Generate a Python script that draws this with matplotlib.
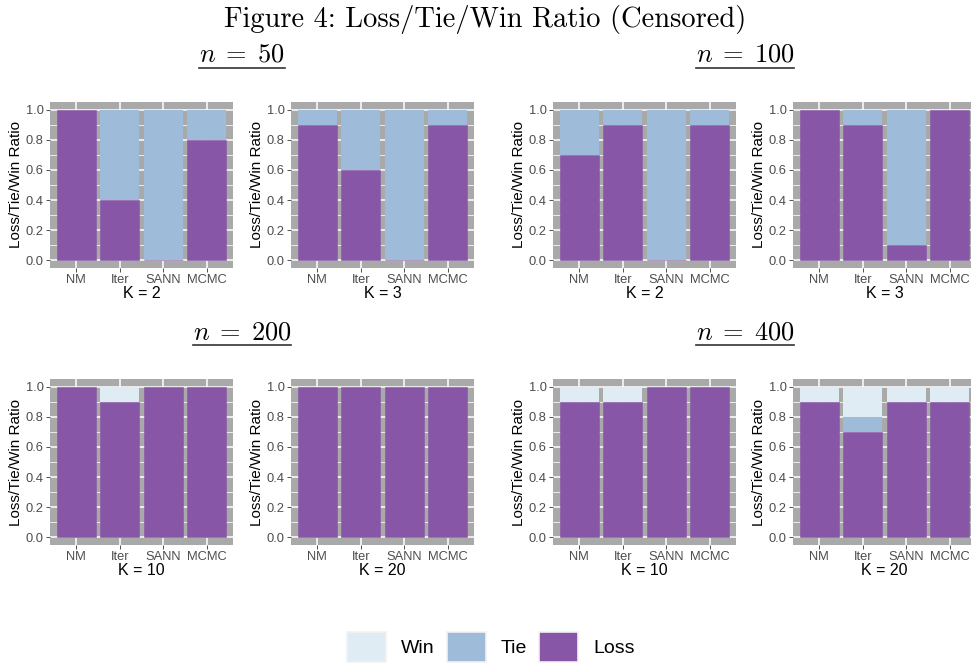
import matplotlib
matplotlib.use('Agg')
import matplotlib.pyplot as plt
import numpy as np
from matplotlib.patches import Patch
from matplotlib.lines import Line2D

methods = ['NM', 'Iter', 'SANN', 'MCMC']

# (n, K) -> loss / tie / win share for NM, Iter, SANN, MCMC
loss_50_2 = [1.0, 0.4, 0.0, 0.8]
tie_50_2 = [0.0, 0.6, 1.0, 0.2]
win_50_2 = [0.0, 0.0, 0.0, 0.0]

loss_50_3 = [0.9, 0.6, 0.0, 0.9]
tie_50_3 = [0.1, 0.4, 1.0, 0.1]
win_50_3 = [0.0, 0.0, 0.0, 0.0]

loss_100_2 = [0.7, 0.9, 0.0, 0.9]
tie_100_2 = [0.3, 0.1, 1.0, 0.1]
win_100_2 = [0.0, 0.0, 0.0, 0.0]

loss_100_3 = [1.0, 0.9, 0.1, 1.0]
tie_100_3 = [0.0, 0.1, 0.9, 0.0]
win_100_3 = [0.0, 0.0, 0.0, 0.0]

loss_200_10 = [1.0, 0.9, 1.0, 1.0]
tie_200_10 = [0.0, 0.0, 0.0, 0.0]
win_200_10 = [0.0, 0.1, 0.0, 0.0]

loss_200_20 = [1.0, 1.0, 1.0, 1.0]
tie_200_20 = [0.0, 0.0, 0.0, 0.0]
win_200_20 = [0.0, 0.0, 0.0, 0.0]

loss_400_10 = [0.9, 0.9, 1.0, 1.0]
tie_400_10 = [0.0, 0.0, 0.0, 0.0]
win_400_10 = [0.1, 0.1, 0.0, 0.0]

loss_400_20 = [0.9, 0.7, 0.9, 0.9]
tie_400_20 = [0.0, 0.1, 0.0, 0.0]
win_400_20 = [0.1, 0.2, 0.1, 0.1]

panels = [
    (50, 2, loss_50_2, tie_50_2, win_50_2),
    (50, 3, loss_50_3, tie_50_3, win_50_3),
    (100, 2, loss_100_2, tie_100_2, win_100_2),
    (100, 3, loss_100_3, tie_100_3, win_100_3),
    (200, 10, loss_200_10, tie_200_10, win_200_10),
    (200, 20, loss_200_20, tie_200_20, win_200_20),
    (400, 10, loss_400_10, tie_400_10, win_400_10),
    (400, 20, loss_400_20, tie_400_20, win_400_20),
]

c_loss = '#8856a7'
c_tie = '#9ebcda'
c_win = '#e0ecf4'
bg = '#a9a9a9'

plt.rcParams['font.family'] = ['Liberation Sans', 'DejaVu Sans']
plt.rcParams['mathtext.fontset'] = 'cm'

W, H = 971, 664
fig = plt.figure(figsize=(W / 100, H / 100), dpi=100)

col_left = [50, 291, 553, 793]
row_top = [102, 379]
pw, ph = 183, 166


def make_ax(i):
    r = i // 4
    c = i % 4
    return fig.add_axes([col_left[c] / W, 1 - (row_top[r] + ph) / H, pw / W, ph / H])


x = np.arange(1, len(methods) + 1)
for i, (n, k, loss, tie, win) in enumerate(panels):
    ax = make_ax(i)
    ax.set_facecolor(bg)
    loss = np.array(loss)
    tie = np.array(tie)
    win = np.array(win)
    ax.bar(x, loss, width=0.9, color=c_loss, edgecolor=c_loss, linewidth=0.4, zorder=3)
    ax.bar(x, tie, width=0.9, bottom=loss, color=c_tie, linewidth=0, zorder=3)
    ax.bar(x, win, width=0.9, bottom=loss + tie, color=c_win, linewidth=0, zorder=3)
    ax.set_xlim(0.4, 4.6)
    ax.set_ylim(-0.05, 1.05)
    ax.set_xticks(x)
    ax.set_xticklabels(methods)
    ax.set_yticks(np.arange(0, 1.01, 0.2))
    ax.set_yticklabels(['%.1f' % v for v in np.arange(0, 1.01, 0.2)])
    ax.set_yticks(np.arange(0.1, 1.0, 0.2), minor=True)
    ax.grid(True, which='major', color='white', linewidth=1.1, zorder=0)
    ax.grid(True, which='minor', axis='y', color='white', linewidth=0.55, zorder=0)
    ax.set_axisbelow(True)
    for s in ax.spines.values():
        s.set_visible(False)
    ax.tick_params(axis='both', which='major', length=3, width=0.6, color='#333333',
                   labelcolor='#4d4d4d', labelsize=9.3, pad=1.5)
    ax.tick_params(axis='both', which='minor', length=0)
    ax.set_ylabel('Loss/Tie/Win Ratio', fontsize=11, labelpad=2)
    ax.set_xlabel('K = %d' % k, fontsize=11.5, labelpad=0)

fig.text(0.5, 1 - 19 / H, 'Figure 4: Loss/Tie/Win Ratio (Censored)', family='cmr10',
         fontsize=20.5, ha='center', va='center')

subs = []
for n, cx, cy in [(50, 242, 55), (100, 745, 55), (200, 242, 332), (400, 745, 332)]:
    t = fig.text(cx / W, 1 - cy / H, r'$n\;=\;%d$' % n, fontsize=19, ha='center', va='center')
    subs.append(t)

fig.canvas.draw()
rend = fig.canvas.get_renderer()
for t in subs:
    bb = t.get_window_extent(rend).transformed(fig.transFigure.inverted())
    yl = bb.y0 - 1.0 / H
    fig.add_artist(Line2D([bb.x0, bb.x1], [yl, yl], transform=fig.transFigure,
                          color='#333333', linewidth=1.2))

handles = [Patch(facecolor=c_win, edgecolor='#f2f2f2', linewidth=1.2, label='Win'),
           Patch(facecolor=c_tie, edgecolor='#f2f2f2', linewidth=1.2, label='Tie'),
           Patch(facecolor=c_loss, edgecolor='#f2f2f2', linewidth=1.2, label='Loss')]
fig.legend(handles=handles, loc='center', bbox_to_anchor=(491 / W, 1 - 647 / H), ncol=3,
           frameon=False, fontsize=14, handlelength=2.0, handleheight=2.0,
           handletextpad=0.8, columnspacing=0.6, borderpad=0)

fig.savefig('out.png', dpi=100)
